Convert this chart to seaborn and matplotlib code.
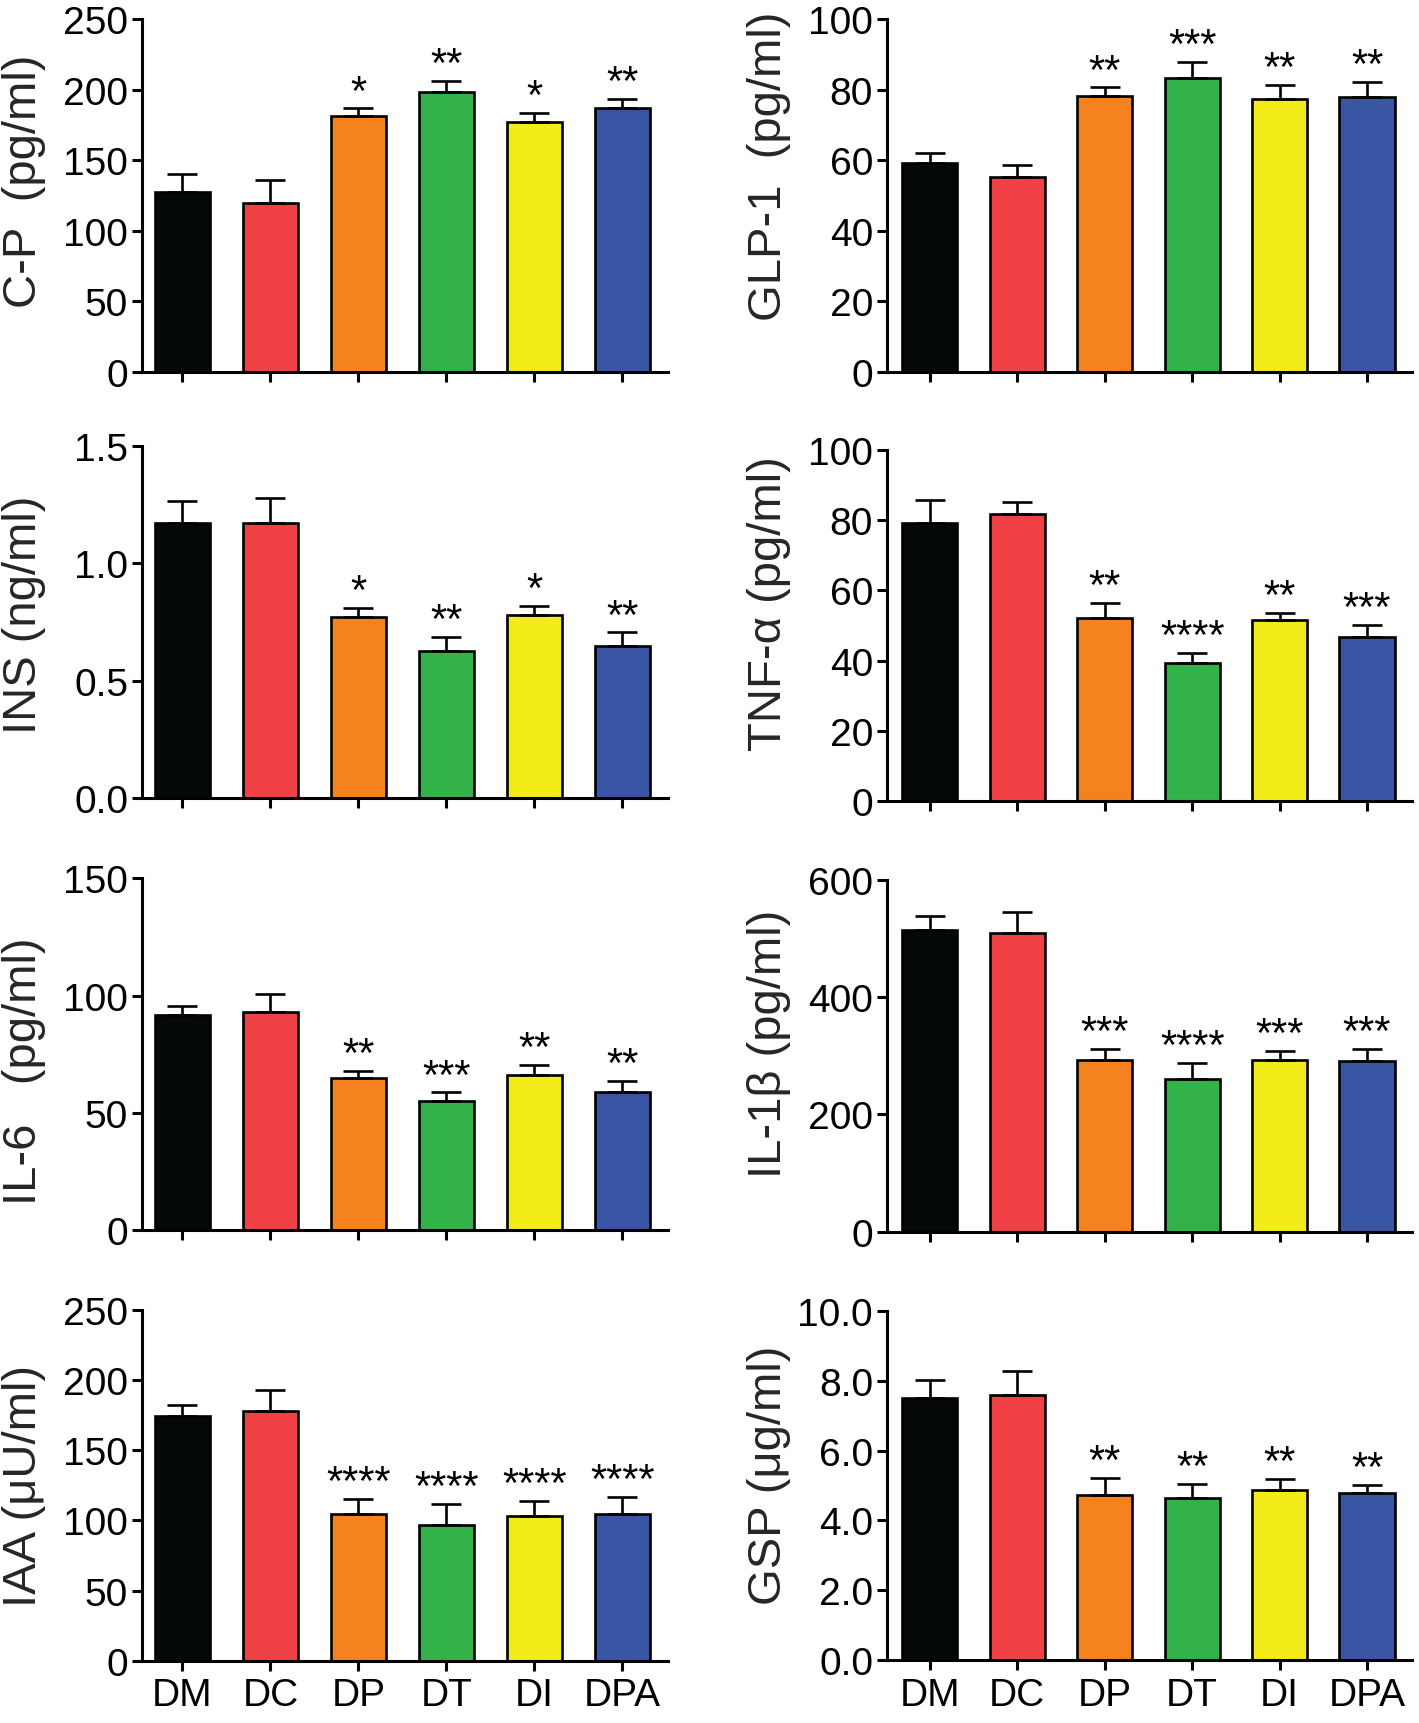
import matplotlib

matplotlib.use("Agg")
import matplotlib.pyplot as plt
import numpy as np
import pandas as pd
import seaborn as sns

# ---- data (mean, upper SEM, significance marks) ----
groups = ["DM", "DC", "DP", "DT", "DI", "DPA"]
colors = ["#050808", "#EF4146", "#F5821F", "#33B249", "#F3EC19", "#3A55A4"]

cp_mean = [127.7, 119.5, 181.5, 198.0, 176.8, 187.0]
cp_sem = [12.5, 16.2, 5.2, 8.3, 6.6, 6.3]
cp_stars = ["", "", "*", "**", "*", "**"]
cp_ticks = [0, 50, 100, 150, 200, 250]

glp_mean = [59.2, 55.3, 78.2, 83.3, 77.4, 78.0]
glp_sem = [2.7, 3.3, 2.4, 4.5, 3.8, 4.2]
glp_stars = ["", "", "**", "***", "**", "**"]
glp_ticks = [0, 20, 40, 60, 80, 100]

ins_mean = [1.169, 1.169, 0.769, 0.624, 0.779, 0.647]
ins_sem = [0.097, 0.107, 0.040, 0.061, 0.038, 0.058]
ins_stars = ["", "", "*", "**", "*", "**"]
ins_ticks = [0.0, 0.5, 1.0, 1.5]

tnf_mean = [79.2, 81.6, 52.2, 39.3, 51.6, 46.7]
tnf_sem = [6.5, 3.5, 4.3, 2.9, 1.9, 3.5]
tnf_stars = ["", "", "**", "****", "**", "***"]
tnf_ticks = [0, 20, 40, 60, 80, 100]

il6_mean = [91.7, 93.1, 64.7, 55.0, 66.2, 58.8]
il6_sem = [3.8, 7.4, 3.0, 3.7, 4.3, 4.9]
il6_stars = ["", "", "**", "***", "**", "**"]
il6_ticks = [0, 50, 100, 150]

il1b_mean = [513.7, 509.7, 292.1, 260.3, 293.2, 291.0]
il1b_sem = [23.9, 35.2, 19.3, 26.7, 14.8, 20.4]
il1b_stars = ["", "", "***", "****", "***", "***"]
il1b_ticks = [0, 200, 400, 600]

iaa_mean = [174.5, 178.1, 104.3, 96.9, 103.3, 104.7]
iaa_sem = [7.8, 14.5, 10.9, 14.7, 10.4, 11.9]
iaa_stars = ["", "", "****", "****", "****", "****"]
iaa_ticks = [0, 50, 100, 150, 200, 250]

gsp_mean = [7.50, 7.59, 4.73, 4.64, 4.87, 4.79]
gsp_sem = [0.52, 0.68, 0.48, 0.41, 0.31, 0.23]
gsp_stars = ["", "", "**", "**", "**", "**"]
gsp_ticks = [0.0, 2.0, 4.0, 6.0, 8.0, 10.0]

# panel: (label, mean, sem, stars, ticks, tick format)
panels = [
    ("C-P  (pg/ml)", cp_mean, cp_sem, cp_stars, cp_ticks, "{:.0f}"),
    ("GLP-1  (pg/ml)", glp_mean, glp_sem, glp_stars, glp_ticks, "{:.0f}"),
    ("INS (ng/ml)", ins_mean, ins_sem, ins_stars, ins_ticks, "{:.1f}"),
    ("TNF-α (pg/ml)", tnf_mean, tnf_sem, tnf_stars, tnf_ticks, "{:.0f}"),
    ("IL-6   (pg/ml)", il6_mean, il6_sem, il6_stars, il6_ticks, "{:.0f}"),
    ("IL-1β (pg/ml)", il1b_mean, il1b_sem, il1b_stars, il1b_ticks, "{:.0f}"),
    ("IAA (μU/ml)", iaa_mean, iaa_sem, iaa_stars, iaa_ticks, "{:.0f}"),
    ("GSP (μg/ml)", gsp_mean, gsp_sem, gsp_stars, gsp_ticks, "{:.1f}"),
]

# ---- layout in pixels of the 1419x1724 canvas ----
W, H = 1419, 1724
col_left = [142, 887]
col_width = [526, 525]
col_xlim = [(-0.46, 5.52), (-0.49, 5.515)]
row_top = [[20, 446.7, 879.3, 1310.7], [20, 450.7, 880.7, 1312]]
row_bottom = [[373, 799, 1231, 1661.7], [372.7, 802.3, 1232.7, 1661]]
label_y = [0.543, 0.584, 0.523, 0.564, 0.453, 0.537, 0.50, 0.533]

sns.set_theme(style="ticks")
plt.rcParams.update(
    {
        "font.family": ["Liberation Sans", "DejaVu Sans"],
        "axes.linewidth": 2.2,
        "axes.edgecolor": "black",
        "xtick.major.width": 2.2,
        "ytick.major.width": 2.2,
        "xtick.major.size": 7,
        "ytick.major.size": 7,
        "xtick.color": "black",
        "ytick.color": "black",
        "xtick.labelsize": 28,
        "ytick.labelsize": 28,
        "xtick.major.pad": 5,
        "ytick.major.pad": 3,
    }
)

fig = plt.figure(figsize=(W / 100, H / 100), dpi=100)

for k, (label, mean, sem, stars, ticks, fmt) in enumerate(panels):
    row, col = divmod(k, 2)
    top = row_top[col][row]
    bottom = row_bottom[col][row]
    ax = fig.add_axes(
        [col_left[col] / W, 1 - bottom / H, col_width[col] / W, (bottom - top) / H]
    )
    df = pd.DataFrame({"group": groups, "value": mean, "sem": sem})
    sns.barplot(
        data=df,
        x="group",
        y="value",
        hue="group",
        palette=colors,
        saturation=1,
        legend=False,
        errorbar=None,
        width=0.63,
        edgecolor="black",
        linewidth=1.9,
        ax=ax,
    )
    xs = np.arange(len(groups))
    ax.errorbar(
        xs,
        df["value"],
        yerr=[np.zeros(len(groups)), df["sem"]],
        fmt="none",
        ecolor="black",
        elinewidth=1.9,
        capsize=11,
        capthick=1.9,
        zorder=1,
    )
    for i, s in enumerate(stars):
        if s:
            ax.annotate(
                s,
                xy=(i, mean[i] + sem[i]),
                xytext=(0, 3.5),
                textcoords="offset points",
                ha="center",
                va="baseline",
                fontsize=30,
                color="black",
            )

    ax.set_ylim(ticks[0], ticks[-1])
    ax.set_yticks(ticks)
    ax.set_yticklabels([fmt.format(t) for t in ticks])
    ax.set_xlim(*col_xlim[col])
    ax.set_xlabel("")
    ax.set_ylabel(label, fontsize=34)
    ax.yaxis.set_label_coords(-96 / col_width[col], label_y[k])
    if row < 3:
        ax.set_xticklabels([])
    sns.despine(ax=ax)

fig.savefig("out.png", dpi=100)
